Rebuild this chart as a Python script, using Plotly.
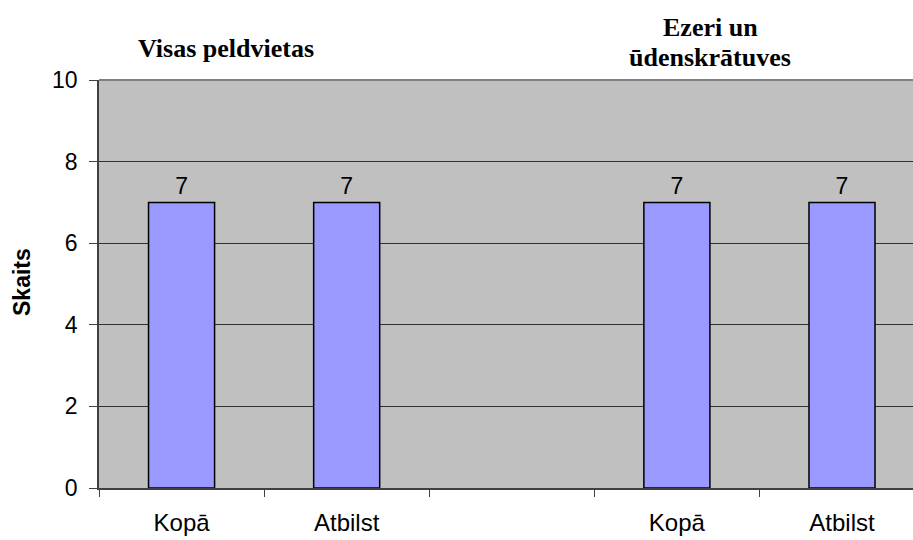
import plotly.graph_objects as go

categories = ["Kopā", "Atbilst", "", "Kopā", "Atbilst"]
values = [7, 7, None, 7, 7]
y_ticks = [0, 2, 4, 6, 8, 10]
y_title = "Skaits"
group_title_lines = ["Visas peldvietas", "Ezeri un", "ūdenskrātuves"]

xpos = list(range(len(categories)))
bar_x = [x for x, v in zip(xpos, values) if v is not None]
bar_y = [v for v in values if v is not None]

L, R, T, B, W, H = 99, 0, 80, 52, 913, 540
PW, PH = W - L - R, H - T - B

fig = go.Figure()
fig.add_trace(go.Bar(
    x=bar_x, y=bar_y, width=0.4,
    marker=dict(color="#9999FF", line=dict(color="#000000", width=1.5)),
    text=[str(v) for v in bar_y], textposition="outside",
    textfont=dict(family="Arial, Liberation Sans", size=23, color="#000000"),
    cliponaxis=False,
))

fig.update_layout(
    width=W, height=H,
    margin=dict(l=L, r=R, t=T, b=B, autoexpand=False),
    paper_bgcolor="white", plot_bgcolor="#C0C0C0",
    showlegend=False,
    font=dict(family="Arial, Liberation Sans", color="#000000"),
    shapes=[dict(type="line", xref="paper", yref="paper", x0=0, x1=1, y0=1, y1=1,
                 line=dict(color="#808080", width=2))],
)
fig.update_xaxes(
    range=[-0.5, 4.43],
    tickvals=[x for x, c in zip(xpos, categories) if c],
    ticktext=[c for c in categories if c],
    ticks="", tickfont=dict(size=24),
    ticklabelstandoff=12,
    minor=dict(tickvals=[i - 0.5 for i in range(len(categories) + 1)], ticks="outside",
               ticklen=7, tickcolor="#404040", showgrid=False),
    showline=True, linecolor="#404040", linewidth=1.5,
    showgrid=False, zeroline=False, automargin=False,
)
fig.update_yaxes(
    range=[0, 10], tickvals=y_ticks, ticks="outside", ticklen=8, tickcolor="#404040",
    tickfont=dict(size=23), ticklabelstandoff=7,
    showline=True, linecolor="#404040", linewidth=1.5,
    showgrid=True, gridcolor="#303030", gridwidth=1, zeroline=False, automargin=False,
)

fig.add_annotation(
    text="<b>" + y_title + "</b>", xref="paper", yref="paper",
    x=(22 - L) / PW, y=(H - B - 282) / PH, textangle=-90,
    showarrow=False, xanchor="center", yanchor="middle",
    font=dict(family="Arial, Liberation Sans", size=23, color="#000000"),
)

title_pos = [(226, 48), (710, 27), (710, 58)]
for t, (px, py) in zip(group_title_lines, title_pos):
    fig.add_annotation(
        text="<b>" + t + "</b>", xref="paper", yref="paper",
        x=(px - L) / PW, y=(H - B - py) / PH,
        showarrow=False, xanchor="center", yanchor="middle",
        font=dict(family="Times New Roman, Liberation Serif", size=26, color="#000000"),
    )

fig.write_html("out.html", config={"displayModeBar": False},
               post_script="document.body.style.margin='0';")
